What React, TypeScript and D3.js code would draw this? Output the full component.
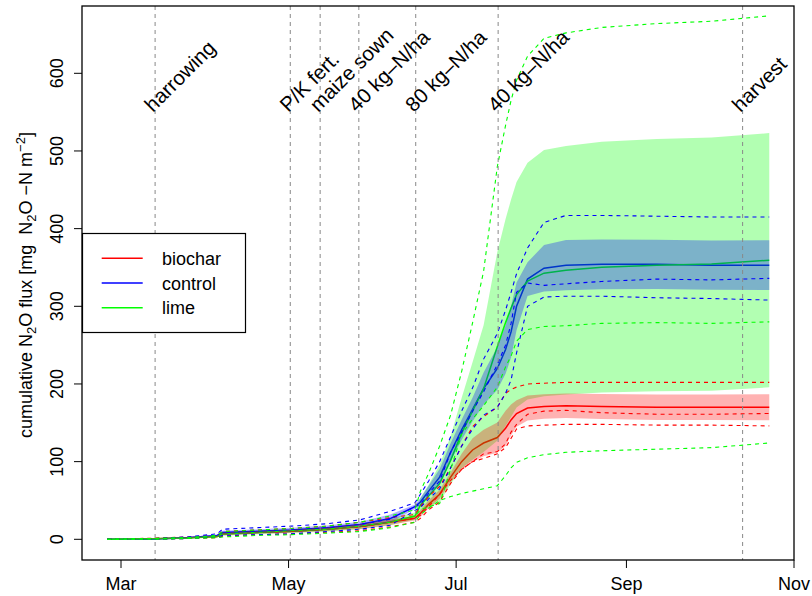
import React from "react";
import * as d3 from "d3";

// measurement dates (cumulative flux)
const sampleDates = [
  "2011-02-24", "2011-03-13", "2011-03-25", "2011-04-05", "2011-04-07", "2011-04-20",
  "2011-05-02", "2011-05-15", "2011-05-27", "2011-06-07", "2011-06-16", "2011-06-18",
  "2011-06-21", "2011-06-25", "2011-06-29", "2011-07-03", "2011-07-07", "2011-07-11",
  "2011-07-16", "2011-07-19", "2011-07-21", "2011-07-23", "2011-07-27", "2011-08-02",
  "2011-08-10", "2011-08-23", "2011-09-12", "2011-10-02", "2011-10-23",
];

// three replicate plots per treatment, mg N2O-N m-2
const biocharReps = [
  [0, 1.5, 3, 5, 10, 12, 14, 17, 22, 28, 32, 42, 55, 68, 92, 120, 145, 158, 170, 188, 193, 196, 200, 201, 202, 202, 202, 202, 202],
  [0, 1, 2, 4, 7, 9, 10, 13, 16, 22, 27, 31, 42, 58, 76, 90, 100, 110, 113, 123, 138, 148, 161, 165, 166, 163, 161, 161, 162],
  [0, 0, 1, 2, 4, 6, 7, 9, 11, 16, 22, 27, 38, 48, 72, 90, 100, 104, 110, 118, 130, 142, 146, 147, 148, 148, 147, 147, 146],
];
const controlReps = [
  [0, 1, 3, 7, 13, 15, 17, 20, 25, 36, 47, 58, 75, 100, 132, 165, 195, 232, 265, 295, 318, 342, 375, 408, 417, 417, 416, 415, 415],
  [0, 0.5, 2, 5, 8, 10, 12, 15, 19, 26, 42, 45, 59, 75, 112, 138, 165, 190, 225, 250, 278, 318, 330, 327, 329, 332, 335, 334, 336],
  [0, 0, 1, 3, 5, 6, 7, 10, 13, 18, 37, 41, 52, 65, 92, 120, 142, 160, 170, 188, 205, 240, 300, 312, 313, 313, 311, 310, 308],
];
const limeReps = [
  [0, 1, 2, 5, 10, 12, 14, 17, 22, 30, 38, 62, 85, 120, 160, 216, 279, 345, 480, 533, 565, 591, 622, 645, 652, 659, 664, 667, 674],
  [0, 1, 2, 4, 7, 9, 11, 13, 17, 22, 30, 38, 42, 46, 90, 135, 155, 172, 196, 222, 236, 255, 270, 274, 275, 278, 279, 278, 280],
  [0, 0, 1, 2, 3, 5, 6, 8, 10, 15, 22, 32, 40, 50, 55, 59, 62, 65, 69, 82, 92, 99, 105, 109, 112, 114, 116, 118, 124],
];

const treatmentNames = ["biochar", "control", "lime"];
const treatmentColors = ["#FF0000", "#0000FF", "#00FF00"];
const bandColors = ["rgba(255,0,0,0.3)", "rgba(0,0,255,0.3)", "rgba(0,255,0,0.3)"];

// management events
const eventDates = [
  "2011-03-13T10:00Z", "2011-05-01T15:00Z", "2011-05-12T12:00Z", "2011-05-26T14:00Z",
  "2011-06-16T07:00Z", "2011-07-16T07:00Z", "2011-10-13T07:00Z",
];
const eventLabels = ["harrowing", "P/K fert.", "maize sown", "40 kg–N/ha", "80 kg–N/ha", "40 kg–N/ha", "harvest"];

const yTicks = [0, 100, 200, 300, 400, 500, 600];

const font = "'Liberation Sans', Arial, Helvetica, sans-serif";

export default function App() {
  const width = 812;
  const height = 596;
  const box = { left: 82, top: 6, right: 794, bottom: 560 };

  const parseDay = d3.utcParse("%Y-%m-%d");
  const dates = sampleDates.map((s) => parseDay(s) as Date);

  const x = d3
    .scaleUtc()
    .domain([new Date(Date.UTC(2011, 2, 1)), new Date(Date.UTC(2011, 10, 1))])
    .range([121, 794]);
  const y = d3.scaleLinear().domain([0, 600]).range([539.3, 73.3]);

  const xTicks = x.ticks(d3.utcMonth.every(2) as d3.TimeInterval);
  const fmt = d3.utcFormat("%b");

  const groups = [biocharReps, controlReps, limeReps].map((reps) => {
    const mean = dates.map((_, i) => d3.mean(reps, (r) => r[i]) as number);
    const se = dates.map((_, i) => (d3.deviation(reps, (r) => r[i]) || 0) / Math.sqrt(reps.length));
    return { reps, mean, se };
  });

  const line = d3
    .line<number>()
    .x((_, i) => x(dates[i]))
    .y((v) => y(v));

  const band = (mean: number[], se: number[]) =>
    d3
      .area<number>()
      .x((_, i) => x(dates[i]))
      .y0((_, i) => y(mean[i] - se[i]))
      .y1((_, i) => y(mean[i] + se[i]))(mean) as string;

  // drawing order: lime band under control band under biochar band
  const bandOrder = [2, 1, 0];

  const labelY = y(549);

  return (
    <svg
      width={width}
      height={height}
      style={{ position: "absolute", left: 0, top: 0, background: "#fff" }}
      fontFamily={font}
    >
      <rect x={0} y={0} width={width} height={height} fill="#fff" />

      {/* mean lines */}
      {groups.map((g, k) => (
        <path key={"m" + k} d={line(g.mean) as string} fill="none" stroke={treatmentColors[k]} strokeWidth={1.5} />
      ))}

      {/* mean ± SE */}
      {bandOrder.map((k) => (
        <path key={"b" + k} d={band(groups[k].mean, groups[k].se)} fill={bandColors[k]} stroke="none" />
      ))}

      {/* replicates */}
      {groups.map((g, k) =>
        g.reps.map((r, j) => (
          <path
            key={"r" + k + j}
            d={line(r) as string}
            fill="none"
            stroke={treatmentColors[k]}
            strokeWidth={1.1}
            strokeDasharray="4,4"
          />
        ))
      )}

      {/* events */}
      {eventDates.map((s, i) => {
        const ex = x(d3.isoParse(s) as Date);
        return (
          <g key={"e" + i}>
            <line x1={ex} x2={ex} y1={box.top} y2={box.bottom} stroke="#888" strokeWidth={1} strokeDasharray="4,4" />
            <text
              transform={`translate(${ex - 2},${labelY}) rotate(-45)`}
              fontSize={20.5}
              fill="#000"
            >
              {eventLabels[i]}
            </text>
          </g>
        );
      })}

      {/* box */}
      <rect
        x={box.left}
        y={box.top}
        width={box.right - box.left}
        height={box.bottom - box.top}
        fill="none"
        stroke="#000"
        strokeWidth={1.3}
      />

      {/* x axis */}
      {xTicks.map((t, i) => (
        <g key={"xt" + i}>
          <line x1={x(t)} x2={x(t)} y1={box.bottom} y2={box.bottom + 8} stroke="#000" />
          <text x={x(t)} y={590} textAnchor="middle" fontSize={18}>
            {fmt(t)}
          </text>
        </g>
      ))}

      {/* y axis */}
      {yTicks.map((t) => (
        <g key={"yt" + t}>
          <line x1={box.left - 8} x2={box.left} y1={y(t)} y2={y(t)} stroke="#000" />
          <text transform={`translate(63,${y(t)}) rotate(-90)`} textAnchor="middle" fontSize={18}>
            {t}
          </text>
        </g>
      ))}

      <text
        transform={`translate(32,${(box.top + box.bottom) / 2 + 2}) rotate(-90)`}
        textAnchor="middle"
        fontSize={18}
        style={{ whiteSpace: "pre" }}
      >
        <tspan>cumulative N</tspan>
        <tspan fontSize={13} dy={4}>2</tspan>
        <tspan dy={-4}>O flux [mg  N</tspan>
        <tspan fontSize={13} dy={4}>2</tspan>
        <tspan dy={-4}>O −N m</tspan>
        <tspan fontSize={13} dy={-7}>−2</tspan>
        <tspan dy={7}>]</tspan>
      </text>

      {/* legend */}
      <g>
        <rect x={82.5} y={233.5} width={163} height={99} fill="#fff" stroke="#000" strokeWidth={1.2} />
        {treatmentNames.map((n, i) => {
          const ly = 258.3 + i * 24.7;
          return (
            <g key={"l" + n}>
              <line x1={101.7} x2={142.7} y1={ly} y2={ly} stroke={treatmentColors[i]} strokeWidth={1.5} />
              <text x={162} y={ly + 6.5} fontSize={18}>
                {n}
              </text>
            </g>
          );
        })}
      </g>
    </svg>
  );
}
